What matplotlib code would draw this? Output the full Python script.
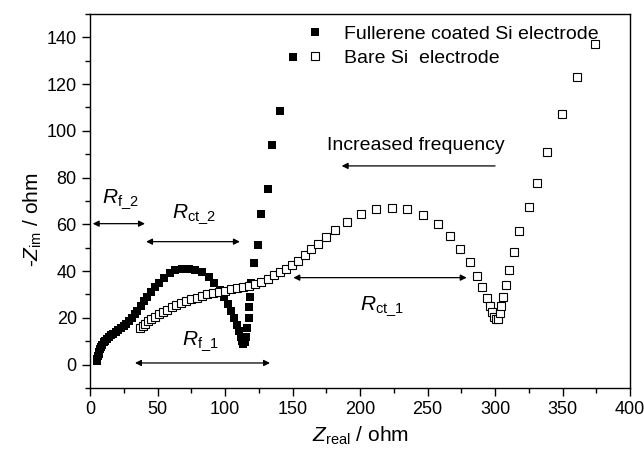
import matplotlib
matplotlib.use('Agg')
import matplotlib.pyplot as plt
import numpy as np

plt.rcParams['font.family'] = ['Liberation Sans', 'DejaVu Sans']
plt.rcParams['mathtext.fontset'] = 'custom'
plt.rcParams['mathtext.rm'] = 'Liberation Sans'
plt.rcParams['mathtext.it'] = 'Liberation Sans:italic'

# fullerene coated Si electrode (filled squares)
coated_x = [5, 5.5, 6, 6.5, 7, 7.5, 8, 9, 10, 11, 12.5, 14, 15.5, 17, 19, 21, 23, 25, 27, 29,
            31, 33, 35, 37.5, 40, 42.5, 45, 48, 51, 55, 59, 63, 68, 73, 78, 83, 88, 92, 96, 99,
            102, 104.5, 106.5, 108.5, 110, 111.5, 112.5, 113.5, 114.5, 115.5, 116.5, 117.5, 118,
            118.5, 119.5, 121.5, 124.5, 127, 131.5, 134.5, 140.5, 150.5]
coated_y = [1.5, 2.5, 3.5, 4.5, 5.5, 6.5, 7.5, 8.5, 9.5, 10.3, 11, 11.8, 12.5, 13.2, 14, 14.8, 15.6, 16.5, 17.5, 18.5,
            20, 21.5, 23, 25, 27, 29, 31, 33, 35, 37, 39, 40.3, 41, 41, 40.5, 39.5, 37.5, 35, 32, 29,
            26, 23, 20, 17, 14.5, 12, 10, 9, 9.5, 12, 15.5, 20, 24.5,
            29, 35, 43.5, 51, 64.5, 75, 94, 108.5, 131.5]

# bare Si electrode (open squares)
bare_x = [37, 39, 41, 43, 45.5, 48, 51, 54, 57, 60.5, 64, 67.5, 71, 75, 79, 83, 87, 91, 95.5, 100,
          104.5, 109, 113.5, 118, 122.5, 127, 131.5, 136, 140.5, 145, 149.5, 154, 159, 164, 169,
          174.5, 181.5, 190.5, 200.5, 212, 223.5, 235, 247, 257.5, 266.5, 274, 281.5, 286.5, 290,
          294, 296.5, 298, 299.5, 301, 302.5, 303.5, 304.5, 306, 308, 310.5, 314, 318, 325, 331,
          338.5, 349.5, 360.5, 374]
bare_y = [15.5, 16.5, 17.5, 18.5, 19.5, 20.5, 21.5, 22.5, 23.5, 24.5, 25.5, 26.5, 27.3, 28, 28.7, 29.4, 30, 30.6, 31.2, 31.7,
          32.2, 32.7, 33.2, 33.8, 34.5, 35.5, 36.8, 38.2, 39.6, 41, 42.5, 44.5, 46.8, 49.3, 51.8,
          54.5, 57.8, 61, 64.5, 66.4, 67.2, 66.4, 64, 60, 55, 49.5, 43.8, 37.7, 33,
          28.7, 25.2, 22.7, 20.5, 19.6, 19.5, 22, 25.2, 29.1, 34.1, 40.5, 48, 57.1, 67.5, 77.9,
          90.8, 107, 123, 137]

fig = plt.figure(figsize=(6.44, 4.54), dpi=100)
ax = fig.add_axes([0.1398, 0.1454, 0.8385, 0.8238])

ax.plot(coated_x, coated_y, 's', color='black', ms=6.2, mew=0, label='Fullerene coated Si electrode')
ax.plot(bare_x, bare_y, 's', mfc='white', mec='black', ms=5.4, mew=0.8, label='Bare Si  electrode')

ax.set_xlim(0, 400)
ax.set_ylim(-10, 150)
ax.set_xticks(np.arange(0, 401, 50))
ax.set_xticks(np.arange(25, 400, 50), minor=True)
ax.set_yticks(np.arange(0, 141, 20))
ax.set_yticks(np.arange(-10, 151, 10), minor=True)
ax.tick_params(which='major', direction='out', length=6, width=1, labelsize=13)
ax.tick_params(which='minor', direction='out', length=3.5, width=1)
for s in ax.spines.values():
    s.set_linewidth(1)

ax.set_xlabel(r'$Z_{\rm real}$ / ohm', fontsize=15, labelpad=5)
ax.set_ylabel(r'-$Z_{\rm im}$ / ohm', fontsize=15)
ax.yaxis.set_label_coords(-0.085, 0.45)

ax.legend(loc='upper left', bbox_to_anchor=(0.383, 0.99), frameon=False, fontsize=14,
          handletextpad=0.9, labelspacing=0.3, borderaxespad=0, handlelength=1.1)

# annotations
arr = dict(arrowstyle='<|-|>', color='black', lw=0.9, mutation_scale=9, shrinkA=0, shrinkB=0)
ax.annotate('', xy=(2, 60.3), xytext=(40.7, 60.3), arrowprops=arr)
ax.annotate('', xy=(41.5, 52.6), xytext=(111, 52.6), arrowprops=arr)
ax.annotate('', xy=(33.3, 0.7), xytext=(133.3, 0.7), arrowprops=arr)
ax.annotate('', xy=(150.6, 37.2), xytext=(279, 37.2), arrowprops=arr)
ax.annotate('', xy=(186.4, 85), xytext=(300, 85),
            arrowprops=dict(arrowstyle='-|>', color='black', lw=0.9, mutation_scale=9,
                            shrinkA=0, shrinkB=0))

ax.text(175.6, 93.8, 'Increased frequency', fontsize=14, va='center', ha='left')
ax.text(8.9, 69.1, r'$R_{\rm f\_2}$', fontsize=15)
ax.text(60.7, 62.7, r'$R_{\rm ct\_2}$', fontsize=15)
ax.text(68.1, 8.5, r'$R_{\rm f\_1}$', fontsize=15)
ax.text(200, 23.5, r'$R_{\rm ct\_1}$', fontsize=15)

fig.savefig('out.png', dpi=100)
